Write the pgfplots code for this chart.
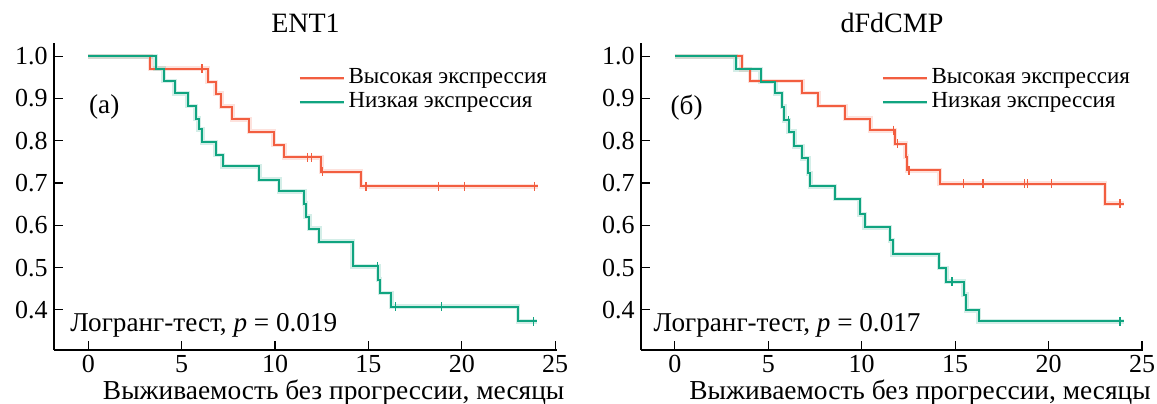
\documentclass[border=0pt]{standalone}
\usepackage{pgfplots}
\pgfplotsset{compat=1.18}
\usepackage{fontspec}
\setmainfont{Liberation Serif}
\definecolor{hiR}{RGB}{242,94,64}
\definecolor{loG}{RGB}{16,164,128}
\pgfplotsset{
  kmstyle/.style={
    width=251.5pt, height=153.5pt, scale only axis,
    axis lines*=left,
    xmin=-1.84, xmax=25.1, ymin=0.305, ymax=1.031,
    xtick={0,5,...,25}, ytick={0.4,0.5,...,1.0},
    yticklabel style={/pgf/number format/fixed,/pgf/number format/fixed zerofill,/pgf/number format/precision=1},
    /pgf/number format/assume math mode=true,
    tick align=inside, major tick length=4.5pt,
    tick style={black, line width=0.6pt},
    axis line style={black, line width=0.6pt},
    ticklabel style={font=\fontsize{13}{15}\selectfont},
    xticklabel style={inner sep=2.5pt},
    yticklabel style={inner sep=3pt},
    title style={font=\fontsize{14}{16}\selectfont, at={(rel axis cs:0.5,1)}, anchor=base, yshift=-0.5pt, inner sep=0pt},
    xlabel style={font=\fontsize{13.7}{15}\selectfont, at={(rel axis cs:0.556,-0.097)}, anchor=north, inner sep=0pt},
    legend style={draw=none, fill=none, font=\fontsize{11.5}{13}\selectfont, inner sep=0pt, row sep=0pt, anchor=north west, cells={anchor=west},
      nodes={inner sep=1.5pt, text height=7.2pt, text depth=1.8pt}},
    legend image code/.code={\draw[#1, line width=1.6pt, opacity=0.35] (0pt,0pt) -- (22pt,0pt); \draw[#1, line width=1pt] (0pt,0pt) -- (22pt,0pt);},
    every axis plot/.append style={line width=1pt},
  },
  halo/.style={line width=2.4pt, opacity=0.3, forget plot},
  cens/.style={only marks, mark=|, mark size=2.2pt, forget plot, mark options={line width=0.7pt}},
}
\begin{document}
\begin{tikzpicture}
\path[use as bounding box] (-27pt,-26.5pt) rectangle (551.5pt,175pt);
% ---------------- ENT1 ----------------
\begin{axis}[kmstyle, at={(0pt,0pt)}, anchor=south west, title={ENT1},
  xlabel={Выживаемость без прогрессии, месяцы},
  legend style={at={(rel axis cs:0.485,0.925)}}]
\addplot[const plot, hiR!60, halo] coordinates {(0,1) (3.32,0.970) (6.40,0.939) (6.81,0.911) (7.11,0.880) (7.70,0.851) (8.63,0.821) (9.93,0.790) (10.50,0.761) (12.48,0.727) (14.6,0.692) (24.1,0.692)};
\addplot[const plot, loG!60, halo] coordinates {(0,1) (3.61,0.970) (4.03,0.941) (4.62,0.912) (5.33,0.882) (5.74,0.852) (5.92,0.827) (6.10,0.796) (6.81,0.766) (7.20,0.739) (9.16,0.708) (10.23,0.680) (11.57,0.651) (11.65,0.620) (11.83,0.592) (12.37,0.561) (14.15,0.503) (15.53,0.471) (15.62,0.440) (16.23,0.407) (23.01,0.373) (24.03,0.373)};
\addplot[const plot, hiR] coordinates {(0,1) (3.32,0.970) (6.40,0.939) (6.81,0.911) (7.11,0.880) (7.70,0.851) (8.63,0.821) (9.93,0.790) (10.50,0.761) (12.48,0.727) (14.6,0.692) (24.1,0.692)};
\addlegendentry{Высокая экспрессия}
\addplot[const plot, loG] coordinates {(0,1) (3.61,0.970) (4.03,0.941) (4.62,0.912) (5.33,0.882) (5.74,0.852) (5.92,0.827) (6.10,0.796) (6.81,0.766) (7.20,0.739) (9.16,0.708) (10.23,0.680) (11.57,0.651) (11.65,0.620) (11.83,0.592) (12.37,0.561) (14.15,0.503) (15.53,0.471) (15.62,0.440) (16.23,0.407) (23.01,0.373) (24.03,0.373)};
\addlegendentry{Низкая экспрессия}
\addplot[cens, hiR] coordinates {(6.08,0.970) (11.74,0.761) (11.96,0.761) (12.55,0.727) (14.86,0.692) (18.74,0.692) (20.15,0.692) (23.89,0.692)};
\addplot[cens, loG] coordinates {(15.48,0.503) (16.46,0.407) (18.9,0.407) (23.85,0.373)};
\node[anchor=center, font=\fontsize{13.6}{15}\selectfont] at (axis cs:0.85,0.879) {(а)};
\node[anchor=base west, inner sep=0pt, font=\fontsize{13.6}{15}\selectfont] at (axis cs:-0.98,0.349) {Логранг-тест, \textit{p} = 0.019};
\end{axis}
% ---------------- dFdCMP ----------------
\begin{axis}[kmstyle, width=251pt, at={(293.5pt,0pt)}, anchor=south west, title={dFdCMP},
  xmin=-1.81, xmax=25.05,
  xlabel={Выживаемость без прогрессии, месяцы},
  legend style={at={(rel axis cs:0.478,0.925)}}]
\addplot[const plot, hiR!60, halo] coordinates {(0,1) (3.57,0.969) (4.02,0.941) (6.83,0.913) (7.68,0.882) (9.13,0.852) (10.45,0.825) (11.78,0.793) (12.36,0.762) (12.42,0.730) (14.18,0.698) (23.02,0.651) (24.02,0.651)};
\addplot[const plot, loG!60, halo] coordinates {(0,1) (3.26,0.969) (4.59,0.939) (5.38,0.912) (5.73,0.880) (5.86,0.848) (6.09,0.821) (6.39,0.787) (6.83,0.758) (7.15,0.723) (7.24,0.692) (8.57,0.662) (9.89,0.626) (10.15,0.595) (11.51,0.564) (11.65,0.531) (14.13,0.499) (14.53,0.467) (15.46,0.436) (15.60,0.399) (16.25,0.373) (24.02,0.373)};
\addplot[const plot, hiR] coordinates {(0,1) (3.57,0.969) (4.02,0.941) (6.83,0.913) (7.68,0.882) (9.13,0.852) (10.45,0.825) (11.78,0.793) (12.36,0.762) (12.42,0.730) (14.18,0.698) (23.02,0.651) (24.02,0.651)};
\addlegendentry{Высокая экспрессия}
\addplot[const plot, loG] coordinates {(0,1) (3.26,0.969) (4.59,0.939) (5.38,0.912) (5.73,0.880) (5.86,0.848) (6.09,0.821) (6.39,0.787) (6.83,0.758) (7.15,0.723) (7.24,0.692) (8.57,0.662) (9.89,0.626) (10.15,0.595) (11.51,0.564) (11.65,0.531) (14.13,0.499) (14.53,0.467) (15.46,0.436) (15.60,0.399) (16.25,0.373) (24.02,0.373)};
\addlegendentry{Низкая экспрессия}
\addplot[cens, hiR] coordinates {(11.71,0.825) (11.90,0.793) (12.52,0.730) (15.46,0.698) (16.48,0.698) (18.72,0.698) (18.87,0.698) (20.14,0.698) (23.81,0.651)};
\addplot[cens, loG] coordinates {(6.08,0.848) (14.84,0.467) (23.81,0.373)};
\node[anchor=center, font=\fontsize{13.6}{15}\selectfont] at (axis cs:0.63,0.879) {(б)};
\node[anchor=base west, inner sep=0pt, font=\fontsize{13.6}{15}\selectfont] at (axis cs:-1.15,0.349) {Логранг-тест, \textit{p} = 0.017};
\end{axis}
\end{tikzpicture}
\end{document}
